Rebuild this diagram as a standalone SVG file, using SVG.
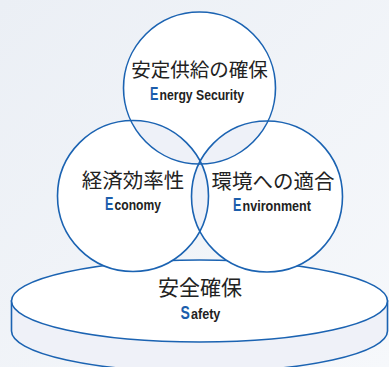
<svg xmlns="http://www.w3.org/2000/svg" width="389" height="367" viewBox="0 0 389 367">
  <defs>
    <linearGradient id="bg" x1="0" y1="0" x2="1" y2="1">
      <stop offset="0" stop-color="#ebeff5"/>
      <stop offset="1" stop-color="#f6f8fb"/>
    </linearGradient>
    <clipPath id="cEco"><circle cx="133" cy="196" r="75.5"/></clipPath>
    <clipPath id="cEnv"><circle cx="267" cy="196.5" r="75.5"/></clipPath>
    <style>
      .ln { stroke: #1b63b2; stroke-width: 1.6; }
      .jp { font-family: "Noto Sans CJK JP", "Noto Sans", sans-serif; fill: #222; text-anchor: middle; }
      .en { font-family: "Liberation Sans", Arial, sans-serif; font-weight: bold; fill: #222; font-size: 14px; }
      .cap { font-family: "Liberation Sans", Arial, sans-serif; font-weight: bold; fill: #1b5eac; font-size: 18px; }
      .lens { fill: #eef1f8; }
    </style>
  </defs>
  <rect width="389" height="367" fill="url(#bg)"/>

  <g id="safety">
    <path class="ln" d="M 11.5 301 L 11.5 331 A 188 41 0 0 0 387.5 331 L 387.5 301 Z" fill="#eff1f8"/>
    <ellipse class="ln" cx="199.5" cy="301" rx="188" ry="41" fill="#ffffff"/>
    <text class="jp" x="200" y="295" font-size="21">安全確保</text>
    <text class="cap" transform="translate(180.5,319) scale(0.78,1)" font-size="20">S</text>
    <text class="en" transform="translate(191,319) scale(0.9,1)">afety</text>
  </g>

  <g id="circles-fill">
    <circle cx="199.5" cy="88" r="76" fill="#ffffff"/>
    <circle cx="133" cy="196" r="75.5" fill="#ffffff"/>
    <circle cx="267" cy="196.5" r="75.5" fill="#ffffff"/>
    <circle class="lens" cx="199.5" cy="88" r="76" clip-path="url(#cEco)"/>
    <circle class="lens" cx="199.5" cy="88" r="76" clip-path="url(#cEnv)"/>
    <circle class="lens" cx="133" cy="196" r="75.5" clip-path="url(#cEnv)"/>
  </g>

  <g id="energy-security">
    <circle class="ln" cx="199.5" cy="88" r="76" fill="none"/>
    <text class="jp" x="199.5" y="77" font-size="19.5">安定供給の確保</text>
    <text class="cap" transform="translate(150,99.5) scale(0.7,1)">E</text>
    <text class="en" transform="translate(159.5,99.5) scale(0.87,1)">nergy Security</text>
  </g>

  <g id="economy">
    <circle class="ln" cx="133" cy="196" r="75.5" fill="none"/>
    <text class="jp" x="133" y="188" font-size="20.5">経済効率性</text>
    <text class="cap" transform="translate(105,210) scale(0.7,1)">E</text>
    <text class="en" transform="translate(114.5,210) scale(0.866,1)">conomy</text>
  </g>

  <g id="environment">
    <circle class="ln" cx="267" cy="196.5" r="75.5" fill="none"/>
    <text class="jp" x="273" y="188.5" font-size="20.5">環境への適合</text>
    <text class="cap" transform="translate(233,211) scale(0.7,1)">E</text>
    <text class="en" transform="translate(242.5,211) scale(0.898,1)">nvironment</text>
  </g>

  <g id="connectors"/>
</svg>
